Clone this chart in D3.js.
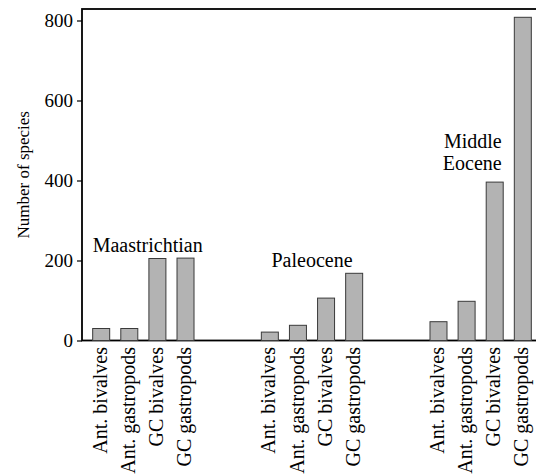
<!DOCTYPE html>
<html lang="en">
<head>
    <script src="https://cdnjs.cloudflare.com/ajax/libs/d3/7.8.5/d3.min.js"></script>
</head>
<body style="margin:0; background:#fff">
    <svg width="536" height="475"></svg>
    <script>
            var periods = ["Maastrichtian", "Paleocene", "Middle Eocene"];
            var taxa = ["Ant. bivalves", "Ant. gastropods", "GC bivalves", "GC gastropods"];
            var maastrichtian = [30, 30, 205, 206];
            var paleocene = [21, 38, 106, 168];
            var middleEocene = [47, 98, 396, 808];
            var yTicks = [0, 200, 400, 600, 800];

            var seriesValues = [maastrichtian, paleocene, middleEocene];
            var serif = "'Liberation Serif'";

            // one row per bar, plus two empty slots between periods
            var slots = [], data = [];
            periods.forEach(function(p, i) {
                if (i > 0) { slots.push("gap" + i + "a", "gap" + i + "b"); }
                taxa.forEach(function(t, j) {
                    var key = p + "|" + t;
                    slots.push(key);
                    data.push({period: p, taxon: t, value: seriesValues[i][j], key: key});
                });
            });

            var svg = d3.select("svg"),
                plotLeft = 82, plotRight = 542, plotTop = 9, plotBottom = 340.5;

            var xScale = d3.scaleBand().domain(slots).range([plotLeft, plotRight])
                    .paddingInner(0.395).paddingOuter(0.38),
                yScale = d3.scaleLinear().domain([0, 800]).range([plotBottom, plotBottom - 320]);

            // frame (right side falls outside the picture)
            svg.append("rect")
                .attr("x", plotLeft).attr("y", plotTop)
                .attr("width", plotRight - plotLeft).attr("height", plotBottom - plotTop)
                .attr("fill", "none").attr("stroke", "#000").attr("stroke-width", 1.8);

            // bars
            svg.append("g").selectAll("rect")
                .data(data)
                .enter().append("rect")
                .attr("x", function(d) { return xScale(d.key); })
                .attr("y", function(d) { return yScale(d.value); })
                .attr("width", xScale.bandwidth())
                .attr("height", function(d) { return plotBottom - yScale(d.value); })
                .attr("fill", "#b3b3b3")
                .attr("stroke", "#3a3a3a")
                .attr("stroke-width", 1);

            // vertical axis
            var yAxis = svg.append("g")
                .attr("transform", "translate(" + plotLeft + ",0)")
                .call(d3.axisLeft(yScale).tickValues(yTicks).tickSize(5).tickPadding(4));
            yAxis.attr("font-family", null).attr("font-size", null);
            yAxis.select(".domain").remove();
            yAxis.selectAll("line").attr("stroke", "#000").attr("stroke-width", 1.2);
            yAxis.selectAll("text")
                .style("font-family", serif)
                .style("font-size", "19px")
                .attr("fill", "#000");

            svg.append("text")
                .attr("transform", "translate(29," + ((plotTop + plotBottom) / 2) + ") rotate(-90)")
                .attr("text-anchor", "middle")
                .style("font-family", serif)
                .style("font-size", "17px")
                .text("Number of species");

            // category labels under the bars
            svg.append("g").selectAll("text")
                .data(data)
                .enter().append("text")
                .attr("transform", function(d) {
                    return "translate(" + (xScale(d.key) + xScale.bandwidth() / 2) + "," + (plotBottom + 6.5) + ") rotate(-90)";
                })
                .attr("dy", "0.28em")
                .attr("text-anchor", "end")
                .style("font-family", serif)
                .style("font-size", "20px")
                .text(function(d) { return d.taxon; });

            // period labels
            function barOf(p, t) { return xScale(p + "|" + t); }

            svg.append("text")
                .attr("x", barOf(periods[0], taxa[0]))
                .attr("y", yScale(d3.max(maastrichtian)) - 6)
                .style("font-family", serif)
                .style("font-size", "20px")
                .text(periods[0]);

            svg.append("text")
                .attr("x", (barOf(periods[1], taxa[0]) + barOf(periods[1], taxa[3]) + xScale.bandwidth()) / 2)
                .attr("y", yScale(d3.max(paleocene)) - 6)
                .attr("text-anchor", "middle")
                .style("font-family", serif)
                .style("font-size", "20px")
                .text(periods[1]);

            var eoceneLabel = svg.append("text")
                .attr("text-anchor", "end")
                .style("font-family", serif)
                .style("font-size", "20px");
            var ex = barOf(periods[2], taxa[2]) + xScale.bandwidth() - 1.5,
                ey = yScale(middleEocene[2]) - 12;
            periods[2].split(" ").forEach(function(w, i, arr) {
                eoceneLabel.append("tspan")
                    .attr("x", ex)
                    .attr("y", ey - (arr.length - 1 - i) * 22)
                    .text(w);
            });

    </script>
</body>
</html>
